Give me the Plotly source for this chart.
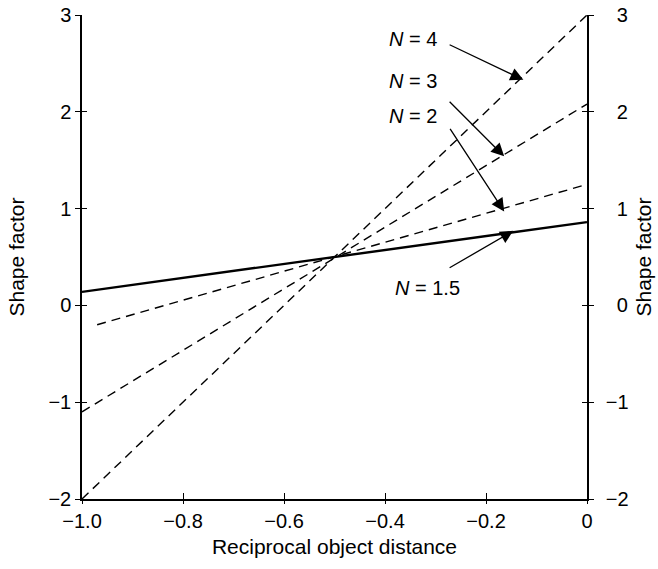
import plotly.graph_objects as go

# ---- data ----
recip_n15 = [-1.0, 0.0]
shape_n15 = [0.14, 0.86]
recip_n2 = [-0.97, 0.0]
shape_n2 = [-0.20, 1.25]
recip_n3 = [-1.0, 0.0]
shape_n3 = [-1.10, 2.08]
recip_n4 = [-1.0, 0.0]
shape_n4 = [-2.0, 3.0]

x_ticks = [-1.0, -0.8, -0.6, -0.4, -0.2, 0.0]
x_ticktext = ["\u22121.0", "\u22120.8", "\u22120.6", "\u22120.4", "\u22120.2", "0"]
y_ticks = [-2, -1, 0, 1, 2, 3]
y_ticktext_left = ["\u22122", "\u22121", "0", "1", "2", "3"]
y_ticktext_right = ["\u22122", "\u22121", "\u20070", "\u20071", "\u20072", "\u20073"]

# labels: text, text pos, arrow tail, arrow head (data coords)
label_text = ["<i>N</i> = 4", "<i>N</i> = 3", "<i>N</i> = 2", "<i>N</i> = 1.5"]
label_x = [-0.344, -0.344, -0.344, -0.316]
label_y = [2.75, 2.32, 1.96, 0.18]
tail_x = [-0.275, -0.275, -0.273, -0.275]
tail_y = [2.70, 2.12, 1.84, 0.38]
head_x = [-0.126, -0.164, -0.164, -0.146]
head_y = [2.33, 1.54, 0.97, 0.77]

FONT = "Liberation Sans, Arial, Helvetica, sans-serif"

fig = go.Figure()
dash = "9px,6px"
fig.add_trace(go.Scatter(x=recip_n4, y=shape_n4, mode="lines",
                         line=dict(color="black", width=1.4, dash=dash), showlegend=False))
fig.add_trace(go.Scatter(x=recip_n3, y=shape_n3, mode="lines",
                         line=dict(color="black", width=1.4, dash=dash), showlegend=False))
fig.add_trace(go.Scatter(x=recip_n2, y=shape_n2, mode="lines",
                         line=dict(color="black", width=1.4, dash=dash), showlegend=False))
fig.add_trace(go.Scatter(x=recip_n15, y=shape_n15, mode="lines",
                         line=dict(color="black", width=2.4), showlegend=False))

# invisible traces to anchor overlay axes (inside ticks / right axis)
for xa, ya in [("x3", "y3"), ("x", "y2"), ("x", "y4")]:
    fig.add_trace(go.Scatter(x=recip_n4, y=shape_n4, xaxis=xa, yaxis=ya, mode="lines",
                             line=dict(color="rgba(0,0,0,0)", width=0), hoverinfo="skip",
                             showlegend=False))

for t, lx, ly, tx, ty, hx, hy in zip(label_text, label_x, label_y, tail_x, tail_y, head_x, head_y):
    fig.add_annotation(x=lx, y=ly, text=t, showarrow=False, xref="x", yref="y",
                       font=dict(family=FONT, size=20, color="black"))
    fig.add_annotation(x=hx, y=hy, ax=tx, ay=ty, axref="x", ayref="y", xref="x", yref="y",
                       text="", showarrow=True, arrowhead=2, arrowsize=2.0, arrowwidth=1.3,
                       arrowcolor="black")

tickfont = dict(family=FONT, size=20, color="black")
titlefont = dict(family=FONT, size=21, color="black")
common = dict(showgrid=False, zeroline=False, linecolor="black", linewidth=1.5,
              tickcolor="black", tickwidth=1.3)

fig.update_layout(
    width=658, height=569,
    margin=dict(l=82, r=71, t=15, b=70, autoexpand=False),
    plot_bgcolor="white", paper_bgcolor="white",
    xaxis=dict(range=[-1.0, 0.0], tickmode="array", tickvals=x_ticks, ticktext=x_ticktext,
               ticks="outside", ticklen=3, showline=True, tickfont=tickfont,
               title=dict(text="Reciprocal object distance", font=titlefont, standoff=9),
               automargin=False, **common),
    xaxis3=dict(range=[-1.0, 0.0], overlaying="x", anchor="y3", tickmode="array", tickvals=x_ticks,
                ticks="inside", ticklen=6, showticklabels=False, showline=False,
                showgrid=False, zeroline=False, tickcolor="black", tickwidth=1.3),
    yaxis=dict(range=[-2, 3], tickmode="array", tickvals=y_ticks, ticktext=y_ticktext_left,
               ticks="outside", ticklen=5, showline=True, tickfont=tickfont,
               title=dict(text="Shape factor", font=titlefont, standoff=18),
               automargin=False, **common),
    yaxis3=dict(range=[-2, 3], overlaying="y", anchor="x3", side="left", tickmode="array",
                tickvals=y_ticks, ticks="inside", ticklen=5, showticklabels=False,
                showline=False, showgrid=False, zeroline=False, tickcolor="black", tickwidth=1.3),
    yaxis2=dict(range=[-2, 3], overlaying="y", anchor="x", side="right", tickmode="array",
                tickvals=y_ticks, ticktext=y_ticktext_right, ticks="outside", ticklen=5,
                showline=True, tickfont=tickfont,
                title=dict(text="Shape factor", font=titlefont, standoff=9),
                automargin=False, ticklabelstandoff=8, **common),
    yaxis4=dict(range=[-2, 3], overlaying="y", anchor="x", side="right", tickmode="array",
                tickvals=y_ticks, ticks="inside", ticklen=5, showticklabels=False,
                showline=False, showgrid=False, zeroline=False, tickcolor="black", tickwidth=1.3),
)

fig.write_html("out.html")
